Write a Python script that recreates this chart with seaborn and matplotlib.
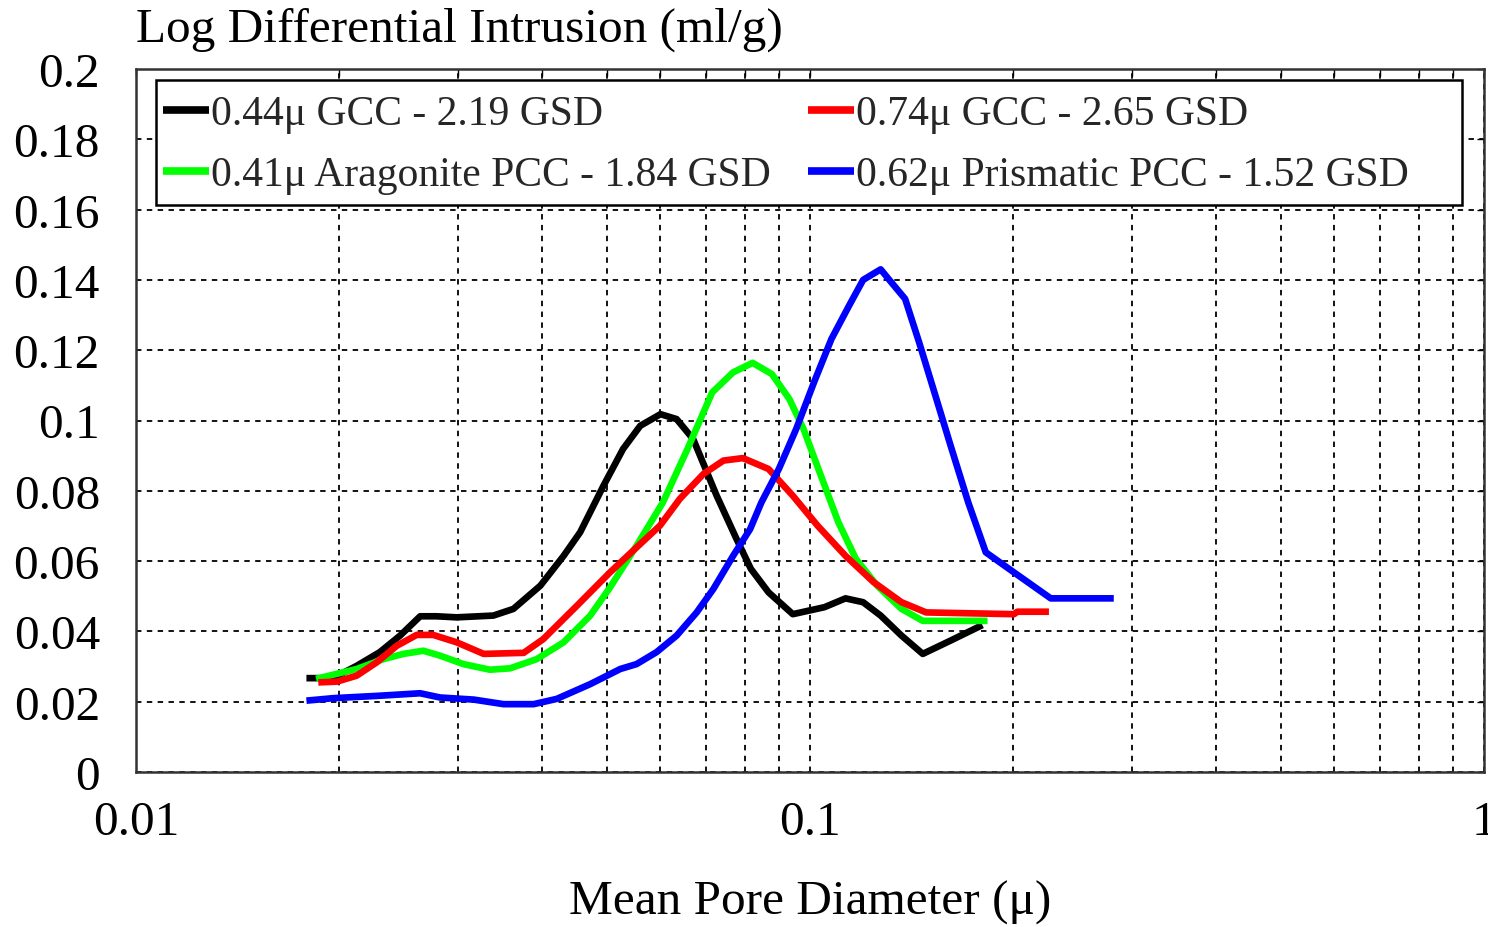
import numpy as np
import pandas as pd
import matplotlib
matplotlib.use("Agg")
import matplotlib.pyplot as plt
import seaborn as sns
from matplotlib.patches import Rectangle
from matplotlib.ticker import FixedLocator, FuncFormatter, NullFormatter

labels = [
    "0.44\u03bc GCC - 2.19 GSD",
    "0.41\u03bc Aragonite PCC - 1.84 GSD",
    "0.74\u03bc GCC - 2.65 GSD",
    "0.62\u03bc Prismatic PCC - 1.52 GSD",
]
colors = ["#000000", "#00FF00", "#FF0000", "#0000FF"]

black_x = [0.0179, 0.0196, 0.02125, 0.0230, 0.02465, 0.0264, 0.0279, 0.0299, 0.0339, 0.0363,
           0.0398, 0.0431, 0.0456, 0.0494, 0.0528, 0.0560, 0.0600, 0.0634, 0.0671, 0.0727,
           0.0778, 0.0817, 0.0868, 0.0943, 0.1051, 0.1129, 0.1199, 0.1273, 0.1367, 0.1470,
           0.1617, 0.1802]
black_y = [0.0267, 0.0267, 0.0302, 0.0341, 0.0388, 0.0443, 0.0443, 0.0440, 0.0445, 0.0464,
           0.0530, 0.0615, 0.0682, 0.0815, 0.0919, 0.0985, 0.1018, 0.1004, 0.0947, 0.0786,
           0.0663, 0.0578, 0.0511, 0.0449, 0.0469, 0.0494, 0.0483, 0.0445, 0.0388, 0.0336,
           0.0374, 0.0418]

green_x = [0.0185, 0.02125, 0.02328, 0.02493, 0.02668, 0.02825, 0.0306, 0.0335, 0.0359, 0.0393,
           0.0431, 0.0472, 0.0505, 0.0553, 0.0605, 0.0658, 0.0716, 0.0769, 0.0822, 0.0878,
           0.0932, 0.0978, 0.1038, 0.1102, 0.1170, 0.1258, 0.1367, 0.1470, 0.1834]
green_y = [0.0265, 0.0293, 0.0321, 0.0336, 0.0345, 0.0331, 0.0307, 0.0291, 0.0295, 0.0321,
           0.0369, 0.0445, 0.0525, 0.0644, 0.0767, 0.0919, 0.1080, 0.1137, 0.1164, 0.1132,
           0.1061, 0.0976, 0.0843, 0.0710, 0.0606, 0.0530, 0.0464, 0.0430, 0.0430]

red_x = [0.01864, 0.01985, 0.02125, 0.02276, 0.02437, 0.02609, 0.0276, 0.0299, 0.0328, 0.0376,
         0.0402, 0.0451, 0.0505, 0.0553, 0.0599, 0.0641, 0.0695, 0.0744, 0.0795, 0.0868,
         0.0943, 0.1026, 0.1129, 0.1243, 0.1367, 0.1487, 0.2007, 0.2031, 0.2262]
red_y = [0.0255, 0.0257, 0.0274, 0.0312, 0.0359, 0.0390, 0.0390, 0.0369, 0.0336, 0.0339,
         0.0378, 0.0473, 0.0568, 0.0639, 0.0701, 0.0777, 0.0848, 0.0886, 0.0893, 0.0862,
         0.0786, 0.0701, 0.0615, 0.0540, 0.0483, 0.0454, 0.0449, 0.0456, 0.0456]

blue_x = [0.0179, 0.0196, 0.0230, 0.0264, 0.02825, 0.0317, 0.0351, 0.0389, 0.0421, 0.0472,
          0.0523, 0.0553, 0.0592, 0.0634, 0.0679, 0.0719, 0.0769, 0.0815, 0.0847, 0.0899,
          0.0954, 0.1014, 0.1076, 0.1143, 0.1199, 0.1273, 0.1319, 0.1384, 0.1452, 0.1524,
          0.1617, 0.1717, 0.1823, 0.2007, 0.2276, 0.2823]
blue_y = [0.0203, 0.0210, 0.0217, 0.0224, 0.0212, 0.0206, 0.0193, 0.0193, 0.0208, 0.0250,
          0.0293, 0.0307, 0.0341, 0.0388, 0.0454, 0.0521, 0.0615, 0.0691, 0.0767, 0.0862,
          0.0976, 0.1109, 0.1232, 0.1327, 0.1400, 0.1430, 0.1394, 0.1346, 0.1222, 0.1090,
          0.0928, 0.0767, 0.0625, 0.0568, 0.0494, 0.0494]

x_major = [0.01, 0.1, 1]
y_ticks = [0, 0.02, 0.04, 0.06, 0.08, 0.1, 0.12, 0.14, 0.16, 0.18, 0.2]

frames = []
for lab, xs, ys in zip(labels, [black_x, green_x, red_x, blue_x], [black_y, green_y, red_y, blue_y]):
    frames.append(pd.DataFrame({"x": xs, "y": ys, "series": lab}))
df = pd.concat(frames, ignore_index=True)

sns.set_theme(style="white")
plt.rcParams["font.family"] = ["Liberation Serif", "DejaVu Serif"]

W, H = 1488, 928
fig = plt.figure(figsize=(W / 100, H / 100), dpi=100)
ax = fig.add_axes([136 / W, 155 / H, 1348 / W, 703 / H])

sns.lineplot(data=df, x="x", y="y", hue="series", hue_order=labels,
             palette=dict(zip(labels, colors)), sort=False, estimator=None,
             units="series", linewidth=4.8, ax=ax, legend=True)
for ln in ax.lines:
    ln.set_linewidth(4.8)
    ln.set_solid_joinstyle("round")
    ln.set_solid_capstyle("butt")

ax.set_xscale("log")
ax.set_xlim(0.01, 1)
ax.set_ylim(0, 0.2)
ax.xaxis.set_major_locator(FixedLocator(x_major))
ax.xaxis.set_major_formatter(FuncFormatter(lambda v, p: "%g" % v))
minors = [m * d for d in [0.01, 0.1] for m in range(2, 10)]
ax.xaxis.set_minor_locator(FixedLocator(minors))
ax.xaxis.set_minor_formatter(NullFormatter())
ax.yaxis.set_major_locator(FixedLocator(y_ticks))
ax.yaxis.set_major_formatter(FuncFormatter(lambda v, p: "%g" % v))

grid_kw = dict(color="black", linestyle=(0, (3, 3)), linewidth=1.3)
ax.grid(True, which="major", axis="both", **grid_kw)
ax.grid(True, which="minor", axis="x", **grid_kw)

for s in ax.spines.values():
    s.set_color("#333333")
    s.set_linewidth(1.8)

ax.tick_params(axis="both", which="both", direction="in", top=True, right=True,
               length=5, width=1, colors="black", labelcolor="black", labelsize=35.5)
ax.tick_params(axis="x", which="major", pad=20)
ax.tick_params(axis="y", which="major", pad=26)

ax.set_xlabel("Mean Pore Diameter (\u03bc)", fontsize=35.5, color="black")
ax.xaxis.set_label_coords(0.5, (H - 903 - 155) / 703)
ax.xaxis.label.set_va("center")
ax.set_ylabel("")

fig.text(136 / W, 1 - 30 / H, "Log Differential Intrusion (ml/g)", fontsize=35.5,
         ha="left", va="center", color="black")

# legend frame (drawn as a box) and legend entries
def px_to_axes(px, py):
    return (px - 136) / 1348, (H - py - 155) / 703

fx0, fy1 = px_to_axes(156, 81)
fx1, fy0 = px_to_axes(1462, 206)
ax.add_patch(Rectangle((fx0, fy0), fx1 - fx0, fy1 - fy0, transform=ax.transAxes,
                       facecolor="white", edgecolor="black", linewidth=1.8, zorder=4,
                       clip_on=False))

handles, labs = ax.get_legend_handles_labels()
lx, ly = px_to_axes(163, 96)
leg = ax.legend(handles, labs, ncol=2, loc="upper left", bbox_to_anchor=(lx, ly),
                frameon=False, fontsize=30, handlelength=1.1, handletextpad=0.05,
                borderpad=0.0, labelspacing=0.54, columnspacing=0.9, borderaxespad=0.0)
leg.set_zorder(5)
for lh in leg.get_lines():
    lh.set_linewidth(5.5)

fig.savefig("out.png", dpi=100, facecolor="white")
